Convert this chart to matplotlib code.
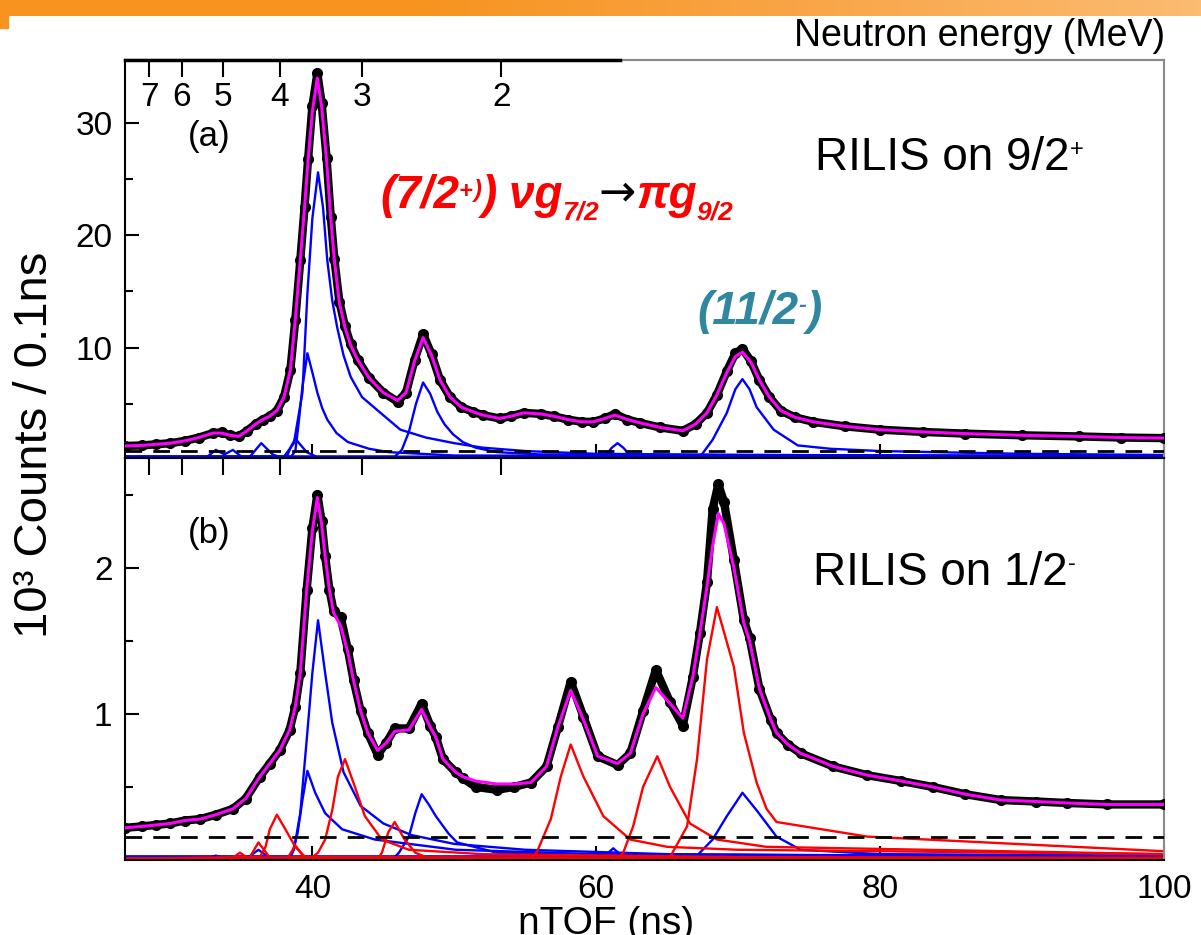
import numpy as np
import matplotlib
matplotlib.use("Agg")
import matplotlib.pyplot as plt
from matplotlib.patches import Rectangle

plt.rcParams['font.family'] = ['Liberation Sans', 'DejaVu Sans']

W, H = 1201, 935

# ---- panel (a): RILIS on 9/2+ -------------------------------------------
tof_a = [26.8, 28, 29, 30, 31, 32, 33, 33.6, 34.2, 34.8, 35.4, 36.0, 36.5, 37.0,
         37.5, 38.0, 38.45, 38.8, 39.15, 39.45, 39.7, 40.0, 40.35, 40.65, 41.0,
         41.3, 41.55, 41.9, 42.3, 42.7, 43.2, 44.0, 45.0, 46.0, 46.6, 47.2, 47.8,
         48.4, 49.0, 49.7, 50.5, 51.3, 52.0, 53.2, 54.0, 54.9, 56.1, 57.0, 58.0,
         59.0, 59.8, 60.6, 61.3, 62.2, 63.1, 64.5, 66.1, 67.0, 67.8, 68.5, 69.2,
         69.8, 70.3, 70.9, 71.5, 72.2, 73.0, 74.0, 75.3, 77.5, 80.0, 83.0, 86.0,
         90.0, 94.0, 97.0, 100.0]
fit_a = [1.25, 1.3, 1.4, 1.5, 1.7, 2.0, 2.4, 2.4, 2.2, 2.1, 2.6, 3.2, 3.6, 3.9,
         4.4, 5.6, 8.0, 12.5, 17.8, 22.5, 26.7, 31.0, 34.0, 31.5, 26.7,
         21.5, 17.8, 14.0, 11.8, 10.2, 8.9, 7.3, 6.0, 5.3, 6.0, 8.8, 10.9,
         9.3, 7.1, 5.6, 4.7, 4.3, 4.0, 3.7, 3.9, 4.2, 4.1, 3.9, 3.6,
         3.4, 3.4, 3.7, 4.0, 3.6, 3.3, 2.9, 2.6, 3.2, 4.2, 5.8, 7.8,
         9.2, 9.6, 8.7, 7.1, 5.6, 4.4, 3.8, 3.4, 3.0, 2.7, 2.5, 2.35,
         2.2, 2.1, 2.0, 1.95]
counts_a = [1.25, 1.3, 1.4, 1.5, 1.7, 2.0, 2.4, 2.45, 2.2, 2.1, 2.6, 3.2, 3.6, 3.9,
            4.4, 5.6, 8.0, 12.5, 17.8, 22.5, 26.8, 31.5, 34.4, 31.8, 26.9,
            21.6, 17.9, 14.1, 11.9, 10.3, 8.9, 7.3, 6.0, 5.2, 6.0, 8.9, 11.2,
            9.4, 7.1, 5.6, 4.7, 4.3, 4.0, 3.7, 3.9, 4.2, 4.1, 3.9, 3.6,
            3.4, 3.4, 3.7, 4.1, 3.6, 3.3, 2.9, 2.6, 3.2, 4.2, 5.8, 7.9,
            9.5, 9.9, 8.8, 7.1, 5.6, 4.4, 3.8, 3.4, 3.0, 2.7, 2.5, 2.35,
            2.2, 2.1, 2.0, 1.95]
bg_a = 0.8        # dashed background level
floor_a = 0.28    # blue base line

blue_a = [
    [(26.8, 0.3), (38.0, 0.3), (38.7, 1.5), (39.3, 6.0), (39.65, 14.8), (40.0, 21.5),
     (40.4, 25.6), (40.75, 22.5), (41.05, 17.8), (41.4, 14.2), (41.75, 11.8),
     (42.2, 9.3), (42.7, 7.4), (43.5, 5.6), (44.8, 4.2), (46.2, 2.7), (48.0, 2.0),
     (50.0, 1.5), (52.0, 1.1), (55.0, 0.8), (60.0, 0.55), (70.0, 0.45), (100.0, 0.35)],
    [(26.8, 0.3), (38.5, 0.3), (38.8, 0.8), (39.0, 2.9), (39.3, 6.5), (39.65, 9.5),
     (40.0, 7.8), (40.35, 6.0), (40.7, 4.6), (41.05, 3.6), (41.7, 2.4), (42.5, 1.6),
     (44.0, 1.0), (45.4, 0.7), (50.0, 0.4), (100.0, 0.3)],
    [(26.8, 0.3), (45.8, 0.3), (46.3, 0.9), (46.8, 2.5), (47.3, 5.0), (47.8, 6.9),
     (48.3, 5.9), (48.8, 4.3), (49.3, 3.2), (49.9, 2.3), (50.6, 1.6), (51.5, 1.1),
     (53.0, 0.7), (56.0, 0.5), (100.0, 0.35)],
    [(26.8, 0.3), (67.3, 0.3), (67.5, 0.6), (68.2, 1.8), (69.2, 4.2), (69.8, 6.3),
     (70.3, 7.2), (70.8, 6.3), (71.3, 4.7), (72.5, 2.7), (74.2, 1.3), (76.5, 1.0),
     (80.0, 0.8), (90.0, 0.55), (100.0, 0.45)],
    [(35.6, 0.3), (36.0, 0.9), (36.4, 1.5), (36.8, 1.0), (37.2, 0.5), (37.6, 0.3)],
    [(38.2, 0.3), (38.5, 1.2), (38.8, 1.9), (39.2, 1.3), (39.6, 0.7), (40.2, 0.35)],
    [(32.6, 0.3), (33.2, 0.9), (33.8, 0.5), (34.4, 0.9), (35.0, 0.3)],
    [(60.6, 0.3), (61.1, 1.1), (61.5, 1.5), (61.9, 1.1), (62.4, 0.4)],
]

# ---- panel (b): RILIS on 1/2- -------------------------------------------
tof_b = [26.8, 28, 29, 30, 31, 32.1, 33.2, 34.4, 35.3, 36.3, 37.0, 37.7, 38.4,
         38.8, 39.15, 39.6, 40.0, 40.35, 40.65, 40.9, 41.2, 41.5, 42.0, 42.5,
         42.9, 43.4, 43.9, 44.6, 45.2, 45.8, 46.8, 47.7, 48.3, 48.7, 49.2, 50.1,
         50.6, 51.5, 53.0, 54.2, 55.4, 56.5, 57.3, 58.2, 59.1, 60.1, 61.5, 62.4,
         63.3, 64.2, 65.2, 66.1, 66.8, 67.3, 67.8, 68.2, 68.6, 69.0, 69.7, 70.4,
         70.8, 71.5, 72.3, 72.7, 73.5, 74.4, 76.7, 79.1, 81.5, 83.7, 86.0, 88.5,
         91.0, 93.2, 96.0, 100.0]
fit_b = [0.22, 0.23, 0.24, 0.25, 0.27, 0.28, 0.31, 0.35, 0.42, 0.57, 0.66, 0.75, 0.89,
         1.05, 1.28, 1.85, 2.25, 2.48, 2.3, 2.08, 1.85, 1.69, 1.6, 1.42,
         1.23, 1.02, 0.87, 0.75, 0.8, 0.88, 0.89, 1.03, 0.91, 0.84, 0.69, 0.6,
         0.57, 0.54, 0.52, 0.52, 0.53, 0.64, 0.91, 1.16, 0.96, 0.71, 0.66, 0.73,
         1.0, 1.18, 1.07, 0.97, 1.25, 1.55, 1.87, 2.15, 2.37, 2.3, 2.0, 1.62,
         1.5, 1.17, 0.96, 0.87, 0.79, 0.73, 0.64, 0.58, 0.54, 0.5, 0.45, 0.41,
         0.4, 0.39, 0.38, 0.38]
counts_b = [0.22, 0.23, 0.24, 0.25, 0.27, 0.28, 0.31, 0.35, 0.42, 0.57, 0.66, 0.75, 0.89,
            1.05, 1.28, 1.85, 2.27, 2.5, 2.32, 2.08, 1.85, 1.7, 1.66, 1.44,
            1.23, 1.02, 0.87, 0.72, 0.8, 0.9, 0.9, 1.07, 0.92, 0.84, 0.69, 0.6,
            0.56, 0.5, 0.48, 0.5, 0.53, 0.64, 0.91, 1.22, 0.98, 0.71, 0.65, 0.73,
            1.02, 1.3, 1.08, 0.92, 1.25, 1.55, 1.9, 2.4, 2.57, 2.45, 2.05, 1.64,
            1.52, 1.17, 0.96, 0.87, 0.79, 0.73, 0.64, 0.58, 0.54, 0.5, 0.45, 0.41,
            0.4, 0.39, 0.38, 0.38]
bg_b = 0.155
floor_b = 0.012

blue_b = [
    [(26.8, 0.02), (38.4, 0.02), (38.7, 0.07), (39.15, 0.32), (39.6, 0.82), (40.0, 1.28),
     (40.4, 1.64), (40.9, 1.28), (41.4, 0.94), (42.2, 0.6), (43.4, 0.37), (45.0, 0.25),
     (47.0, 0.17), (50.0, 0.11), (55.0, 0.07), (65.0, 0.04), (100.0, 0.02)],
    [(26.8, 0.02), (38.4, 0.02), (38.6, 0.05), (38.95, 0.18), (39.3, 0.41), (39.65, 0.61),
     (40.2, 0.46), (40.9, 0.32), (42.1, 0.21), (44.4, 0.14), (50.1, 0.07), (60.0, 0.04),
     (100.0, 0.02)],
    [(45.8, 0.02), (46.1, 0.05), (46.8, 0.16), (47.25, 0.32), (47.7, 0.45), (48.2, 0.38),
     (48.7, 0.3), (49.6, 0.18), (50.2, 0.12), (53.0, 0.05), (60.0, 0.03), (100.0, 0.02)],
    [(67.0, 0.02), (67.3, 0.05), (68.2, 0.14), (69.2, 0.3), (70.3, 0.46), (71.3, 0.34),
     (72.7, 0.16), (74.4, 0.07), (80.0, 0.04), (100.0, 0.03)],
    [(35.5, 0.02), (36.2, 0.07), (36.9, 0.02)],
    [(32.6, 0.01), (33.2, 0.03), (33.8, 0.01)],
    [(60.5, 0.02), (61.2, 0.08), (61.9, 0.02)],
]
red_b = [
    [(26.8, 0.01), (36.3, 0.02), (36.7, 0.09), (37.0, 0.21), (37.5, 0.31), (38.1, 0.21),
     (38.8, 0.09), (39.5, 0.02), (100.0, 0.01)],
    [(26.8, 0.01), (40.0, 0.02), (40.4, 0.05), (40.9, 0.14), (41.4, 0.34), (41.8, 0.57),
     (42.3, 0.69), (43.0, 0.5), (43.7, 0.3), (44.9, 0.14), (46.8, 0.07), (52.0, 0.04),
     (70.0, 0.02), (100.0, 0.015)],
    [(44.7, 0.02), (44.9, 0.05), (45.35, 0.19), (45.8, 0.26), (46.5, 0.14), (47.25, 0.05),
     (48.0, 0.02)],
    [(55.5, 0.02), (55.8, 0.05), (56.8, 0.28), (57.5, 0.57), (58.2, 0.79), (59.1, 0.57),
     (60.5, 0.3), (62.4, 0.14), (65.0, 0.09), (70.0, 0.07), (100.0, 0.04)],
    [(61.6, 0.02), (61.9, 0.05), (62.6, 0.23), (63.3, 0.5), (64.3, 0.71), (65.2, 0.5),
     (66.6, 0.25), (68.5, 0.14), (72.0, 0.09), (100.0, 0.04)],
    [(65.2, 0.02), (66.4, 0.23), (67.1, 0.69), (67.8, 1.37), (68.5, 1.73), (69.7, 1.32),
     (70.4, 0.87), (71.3, 0.53), (72.0, 0.35), (72.7, 0.26), (79.1, 0.16), (100.0, 0.06)],
    [(35.6, 0.02), (36.2, 0.12), (36.9, 0.03)],
    [(38.3, 0.02), (38.8, 0.1), (39.4, 0.02)],
    [(34.3, 0.01), (34.9, 0.05), (35.5, 0.01)],
]

# neutron energy scale on top (MeV), t = C / sqrt(E)
energy_ticks = [7, 6, 5, 4, 3, 2]
flight_const = 75.4


def fx(px):
    return px / W


def fy(py):
    return 1 - py / H


def text_row(fig, x, base, pieces):
    """Lay out text pieces left to right on a common baseline (pixel coords)."""
    r = fig.canvas.get_renderer()
    for s, size, color, rise, weight, style, *fam in pieces:
        kw = {"family": fam[0]} if fam else {}
        t = fig.text(fx(x), fy(base - rise), s, fontsize=size, color=color,
                     weight=weight, style=style, ha="left", va="baseline", **kw)
        x += t.get_window_extent(r).width


def style_panel(ax, ylim, major, minor):
    ax.set_xlim(26.8, 100)
    ax.set_ylim(*ylim)
    ax.set_yticks(major)
    ax.set_yticks(minor, minor=True)
    ax.set_xticks([40, 60, 80, 100])
    ax.tick_params(which="both", direction="in", width=1.5, labelsize=24, pad=9)
    ax.tick_params(which="major", length=10)
    ax.tick_params(which="minor", length=6)
    for side in ["left", "bottom", "top"]:
        ax.spines[side].set_linewidth(1.5)
    ax.spines["right"].set_color("#8a8a8a")
    ax.spines["right"].set_linewidth(1.5)

    sec = ax.secondary_xaxis("top")
    sec.set_xticks(flight_const / np.sqrt(energy_ticks))
    sec.set_xticklabels([])
    sec.tick_params(direction="in", length=12, width=1.5)
    sec.spines["top"].set_linewidth(1.5)
    return sec


def draw_spectrum(ax, tof, counts, fit, comps, bg):
    for comp, color in comps:
        t, y = zip(*comp)
        ax.plot(t, y, color=color, lw=1.7, zorder=2)
    ax.axhline(bg, color="black", lw=2, dashes=(6, 4), zorder=3)
    ax.plot(tof, counts, color="black", lw=6, zorder=4,
            marker="o", ms=7, solid_capstyle="round", solid_joinstyle="round")
    ax.plot(tof, fit, color="#ff00ff", lw=2.2, zorder=5)


fig = plt.figure(figsize=(W / 100, H / 100), dpi=100)

ax_a = fig.add_axes([fx(125), fy(458), fx(1164) - fx(125), fy(60) - fy(458)])
ax_b = fig.add_axes([fx(125), fy(860), fx(1164) - fx(125), fy(458) - fy(860)])

ax_a.axhline(floor_a, color="#0000ff", lw=2, zorder=2)
draw_spectrum(ax_a, tof_a, counts_a, fit_a, [(c, "#0000ff") for c in blue_a], bg_a)
sec_a = style_panel(ax_a, (0.18, 35.6), [10, 20, 30], [5, 15, 25])
ax_a.tick_params(labelbottom=False)
ax_a.spines["top"].set_color("#8a8a8a")
sec_a.spines["top"].set_color("#8a8a8a")
ax_a.plot([0, 0.476], [1, 1], transform=ax_a.transAxes, color="black",
          lw=2.5, clip_on=False, zorder=6)

for e, t in zip(energy_ticks, flight_const / np.sqrt(energy_ticks)):
    ax_a.text(t, 0.945, str(e), transform=ax_a.get_xaxis_transform(),
              ha="center", va="top", fontsize=24)
ax_a.text(0.081, 0.807, "(a)", transform=ax_a.transAxes,
          ha="center", va="center", fontsize=25)

ax_b.axhline(floor_b, color="#ff0000", lw=3.5, zorder=2)
ax_b.axhline(floor_b + 0.012, color="#0000ff", lw=1.2, zorder=2)
draw_spectrum(ax_b, tof_b, counts_b, fit_b,
              [(c, "#0000ff") for c in blue_b] + [(c, "#ff0000") for c in red_b], bg_b)
style_panel(ax_b, (0, 2.75), [1, 2], [0.5, 1.5, 2.5])
ax_b.tick_params(axis="x", pad=10)
ax_b.text(0.081, 0.813, "(b)", transform=ax_b.transAxes,
          ha="center", va="center", fontsize=25)

# axis titles
fig.text(fx(35), fy(445), "10\u00b3 Counts / 0.1ns", rotation=90,
         ha="center", va="center", fontsize=34)
fig.text(fx(606), fy(906), "nTOF (ns)", ha="center", va="top", fontsize=28)
fig.text(fx(1165), fy(46), "Neutron energy (MeV)", ha="right", va="baseline",
         fontsize=27)

# annotations
red, teal = "#ff0000", "#2f88a0"
text_row(fig, 380, 208, [
    ("(7/2", 33, red, 0, "bold", "italic"),
    ("+", 17, red, 10, "bold", "italic"),
    (")", 17, red, 11, "bold", "italic"),
    (") \u03bdg", 33, red, 0, "bold", "italic"),
    ("7/2", 19, red, -11, "bold", "italic"),
    ("\u2192", 32, "black", 3, "normal", "normal", "DejaVu Sans"),
    ("\u03c0g", 33, red, 0, "bold", "italic"),
    ("9/2", 19, red, -11, "bold", "italic"),
])
text_row(fig, 697, 324, [
    ("(11/2", 33, teal, 0, "bold", "italic"),
    ("-", 17, teal, 12, "bold", "italic"),
    (")", 33, teal, 0, "bold", "italic"),
])
text_row(fig, 815, 170, [
    ("RILIS on 9/2", 33, "black", 0, "normal", "normal"),
    ("+", 17, "black", 14, "normal", "normal"),
])
text_row(fig, 813, 585, [
    ("RILIS on 1/2", 33, "black", 0, "normal", "normal"),
    ("-", 17, "black", 15, "normal", "normal"),
])

# orange slide banner along the top edge
band = fig.add_axes([0, fy(16), 1, 16 / H])
grad = np.linspace(0, 1, 256)[None, :]
band.imshow(grad, aspect="auto", cmap=matplotlib.colors.LinearSegmentedColormap.from_list(
    "banner", ["#f7931e", "#f7931e", "#f9a547", "#fbbb72"]), extent=[0, 1, 0, 1])
band.axis("off")
fig.patches.append(Rectangle((0, fy(28)), fx(8), 12 / H, transform=fig.transFigure,
                             color="#f7931e"))

fig.savefig("out.png", dpi=100)
